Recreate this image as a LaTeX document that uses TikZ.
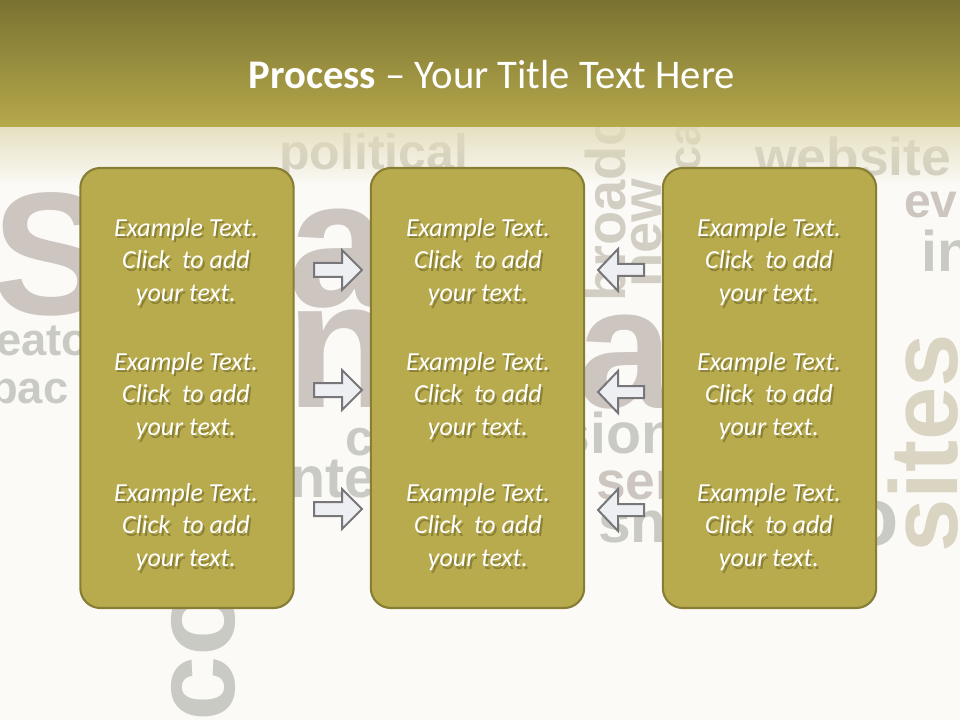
\documentclass[tikz,border=0pt]{standalone}
\usepackage{fontspec}
\setmainfont{Carlito}
\newfontfamily\cloudfont{Liberation Sans}
\usetikzlibrary{fadings}
\definecolor{bgc}{HTML}{FBFAF6}
\definecolor{headtop}{HTML}{7A7232}
\definecolor{headbot}{HTML}{B5A94B}
\definecolor{fadec}{HTML}{E2DCB8}
\definecolor{boxfill}{HTML}{B8AB4D}
\definecolor{boxline}{HTML}{877D35}
\definecolor{shadowc}{HTML}{5E5722}
\definecolor{arrfill}{HTML}{EEEFF3}
\definecolor{arrline}{HTML}{77777A}
\definecolor{wA}{HTML}{D2CEC4}
\definecolor{wB}{HTML}{CCC5C0}
\definecolor{wC}{HTML}{CACAC4}
\definecolor{wD}{HTML}{DAD4C2}
\tikzfading[name=fadedown, top color=transparent!15, bottom color=transparent!100]
\tikzset{
  cloud/.style={font=\cloudfont\bfseries, inner sep=0pt, anchor=base west},
  box/.style={draw=boxline, line width=1.6pt, fill=boxfill, rounded corners=15pt,
    minimum width=160pt, minimum height=330pt},
  btext/.style={font=\fontsize{19.5}{24.5}\selectfont\itshape, align=center, text=white, inner sep=0pt},
  bshadow/.style={btext, text=shadowc, text opacity=0.5},
  arrowstyle/.style={draw=arrline, fill=arrfill, line width=1.5pt, line join=miter},
  rarr/.pic={\path[arrowstyle] (-24,-7) -- (4,-7) -- (4,-20) -- (24,0) -- (4,20) -- (4,7) -- (-24,7) -- cycle;},
  larr/.pic={\path[arrowstyle] (23,-6) -- (-3,-6) -- (-3,-21) -- (-23,0) -- (-3,21) -- (-3,6) -- (23,6) -- cycle;}
}
\begin{document}
\begin{tikzpicture}[x=0.75pt, y=-0.75pt]
\useasboundingbox (0,0) rectangle (960,720);
\fill[bgc] (0,0) rectangle (960,720);
\begin{scope}
\clip (0,0) rectangle (960,720);
% word cloud background
\node[cloud, text=wA, font=\cloudfont\bfseries\fontsize{37.5}{40}\selectfont] (w1) at (279,170) {political};
\node[cloud, text=wA, font=\cloudfont\bfseries\fontsize{40}{42}\selectfont] (w2) at (755,176) {website};
\node[cloud, text=wB, font=\cloudfont\bfseries\fontsize{131}{131}\selectfont] (w3) at (-8,315) {S};
\node[cloud, text=wC, font=\cloudfont\bfseries\fontsize{34}{36}\selectfont] (w4) at (-4,355) {eato};
\node[cloud, text=wC, font=\cloudfont\bfseries\fontsize{34}{36}\selectfont] (w5) at (-10,403) {bac};
\node[cloud, text=wB, font=\cloudfont\bfseries\fontsize{136}{136}\selectfont] (w6) at (288,306) {a};
\node[cloud, text=wB, font=\cloudfont\bfseries\fontsize{136}{136}\selectfont] (w7) at (286,407) {n};
\node[cloud, text=wB, font=\cloudfont\bfseries\fontsize{129}{129}\selectfont] (w8) at (577,407) {a};
\node[cloud, text=wC, font=\cloudfont\bfseries\fontsize{43}{45}\selectfont] (w9) at (558,453) {sion};
\node[cloud, text=wB, font=\cloudfont\bfseries\fontsize{40}{42}\selectfont] (w10) at (596,499) {ser};
\node[cloud, text=wC, font=\cloudfont\bfseries\fontsize{44}{46}\selectfont] (w11) at (598,542) {sna};
\node[cloud, text=wC, font=\cloudfont\bfseries\fontsize{38}{40}\selectfont] (w12) at (345,455) {c};
\node[cloud, text=wC, font=\cloudfont\bfseries\fontsize{43}{45}\selectfont] (w13) at (290,497) {nte};
\node[cloud, text=wA, rotate=90, font=\cloudfont\bfseries\fontsize{42}{44}\selectfont] (w14) at (625,302) {broadc};
\node[cloud, text=wA, rotate=90, font=\cloudfont\bfseries\fontsize{42}{44}\selectfont] (w15) at (661,288) {new};
\node[cloud, text=wA, rotate=90, font=\cloudfont\bfseries\fontsize{34}{36}\selectfont] (w16) at (700,172) {ca};
\node[cloud, text=wB, font=\cloudfont\bfseries\fontsize{36}{38}\selectfont] (w17) at (904,218) {ev};
\node[cloud, text=wC, font=\cloudfont\bfseries\fontsize{43}{45}\selectfont] (w18) at (921,272) {in};
\node[cloud, text=wD, rotate=90, font=\cloudfont\bfseries\fontsize{72}{72}\selectfont] (w19) at (957,553) {sites};
\node[cloud, text=wC, rotate=90, font=\cloudfont\bfseries\fontsize{88}{88}\selectfont] (w20) at (234,722) {co};
\node[cloud, text=wC, font=\cloudfont\bfseries\fontsize{62}{62}\selectfont] (w21) at (848,545) {o};
% header
\shade[top color=headtop, bottom color=headbot] (0,0) rectangle (960,127);
\fill[fadec, path fading=fadedown] (0,127) rectangle (960,185);
\end{scope}
% title
\node[text=white, font=\fontsize{30.5}{33}\selectfont, inner sep=0pt] (title) at (492,75) {\textbf{Process} – Your Title Text Here};
% boxes
\node[box] (b1) at (187,388) {};
\node[box] (b2) at (477.5,388) {};
\node[box] (b3) at (769.5,388) {};
% texts
\foreach \bx/\cx in {1/186, 2/478, 3/769}{
  \foreach \ty/\cy in {1/262, 2/396, 3/527}{
    \node[bshadow] (s\bx\ty) at (\cx+2,\cy+2.5) {Example Text.\\Click~ to add\\your text.};
    \node[btext] (t\bx\ty) at (\cx,\cy) {Example Text.\\Click~ to add\\your text.};
  }
}
% arrows
\pic at (338,270) {rarr};
\pic at (338,390) {rarr};
\pic at (338,509) {rarr};
\pic at (621,270) {larr};
\pic at (621,392) {larr};
\pic at (621,510) {larr};
\end{tikzpicture}
\end{document}
